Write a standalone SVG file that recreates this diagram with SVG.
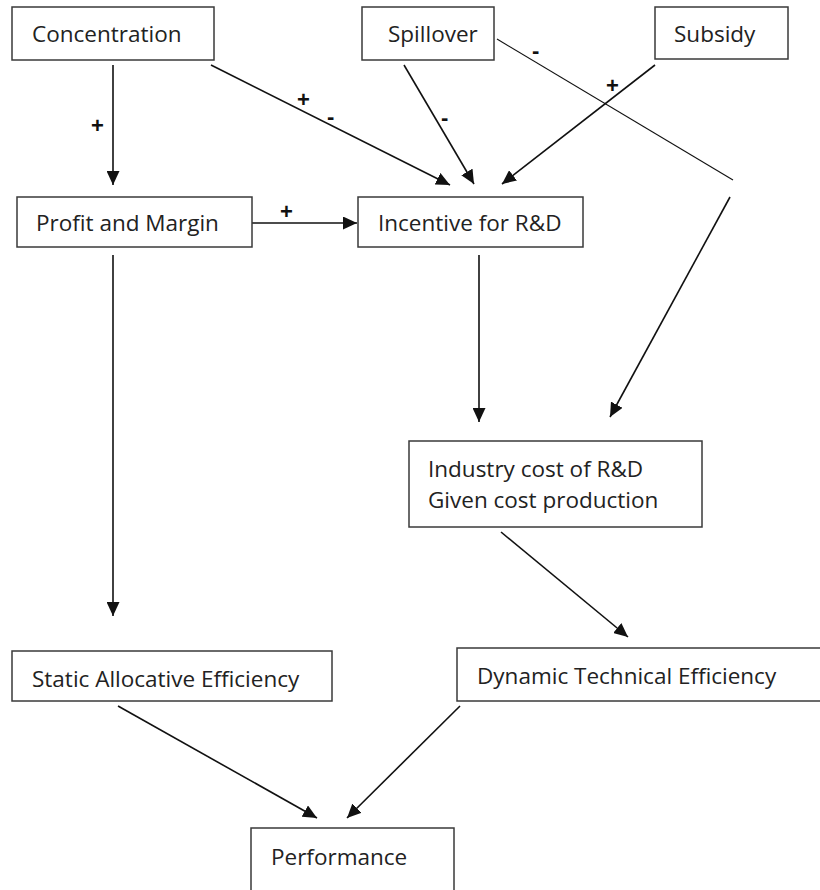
<svg xmlns="http://www.w3.org/2000/svg" width="820" height="890" viewBox="0 0 820 890">
<style>
.box{fill:#fff;stroke:#3a3a3a;stroke-width:1.5}
.t{font-family:"Open Sans","Liberation Sans",sans-serif;font-size:22.5px;fill:#222}
.c{stroke:#111;stroke-width:1.6;fill:none}
.thin{stroke:#111;stroke-width:1.1;fill:none}
.s{font-family:"Liberation Sans",sans-serif;font-size:22px;font-weight:bold;fill:#111}
</style>
<defs>
<marker id="ah" markerUnits="userSpaceOnUse" markerWidth="15" markerHeight="13" refX="14" refY="6.5" orient="auto">
<path d="M0,0 L14,6.5 L0,13 z" fill="#111"/>
</marker>
</defs>
<rect width="820" height="890" fill="#fff"/>
<g id="connectors">
<line class="c" x1="113" y1="65" x2="113" y2="185" marker-end="url(#ah)"/>
<line class="c" x1="211" y1="65" x2="450" y2="185" marker-end="url(#ah)"/>
<line class="c" x1="404" y1="65" x2="474" y2="184" marker-end="url(#ah)"/>
<line class="c" x1="655" y1="65" x2="502" y2="184" marker-end="url(#ah)"/>
<line class="thin" x1="497" y1="39" x2="733" y2="180"/>
<line class="c" x1="730" y1="197" x2="610" y2="417" marker-end="url(#ah)"/>
<line class="c" x1="252" y1="223" x2="357" y2="223" marker-end="url(#ah)"/>
<line class="c" x1="113" y1="255" x2="113" y2="616" marker-end="url(#ah)"/>
<line class="c" x1="479" y1="255" x2="479" y2="422" marker-end="url(#ah)"/>
<line class="c" x1="501" y1="532" x2="628" y2="637" marker-end="url(#ah)"/>
<line class="c" x1="118" y1="706" x2="317" y2="818" marker-end="url(#ah)"/>
<line class="c" x1="460" y1="706" x2="347" y2="818" marker-end="url(#ah)"/>
<text class="s" x="91" y="133">+</text>
<text class="s" x="297" y="107">+</text>
<text class="s" x="327" y="124">-</text>
<text class="s" x="441" y="125">-</text>
<text class="s" x="532" y="58">-</text>
<text class="s" x="606" y="93">+</text>
<text class="s" x="280" y="219">+</text>
</g>
<g id="concentration"><rect class="box" x="12" y="7" width="202" height="53"/><text class="t" x="32" y="42">Concentration</text></g>
<g id="spillover"><rect class="box" x="362" y="7" width="132" height="53"/><text class="t" x="388" y="42">Spillover</text></g>
<g id="subsidy"><rect class="box" x="655" y="7" width="133" height="52"/><text class="t" x="674" y="42">Subsidy</text></g>
<g id="profit"><rect class="box" x="17" y="197" width="235" height="50"/><text class="t" x="36" y="231">Profit and Margin</text></g>
<g id="incentive"><rect class="box" x="358" y="197" width="225" height="50"/><text class="t" x="378" y="231">Incentive for R&amp;D</text></g>
<g id="industry"><rect class="box" x="409" y="441" width="293" height="86"/><text class="t" x="428" y="477">Industry cost of R&amp;D</text><text class="t" x="428" y="508">Given cost production</text></g>
<g id="dynamic"><rect class="box" x="457" y="648" width="380" height="53"/><text class="t" x="477" y="684">Dynamic Technical Efficiency</text></g>
<g id="static"><rect class="box" x="12" y="651" width="320" height="50"/><text class="t" x="32" y="687">Static Allocative Efficiency</text></g>
<g id="performance"><rect class="box" x="251" y="828" width="203" height="80"/><text class="t" x="271" y="865">Performance</text></g>
</svg>
